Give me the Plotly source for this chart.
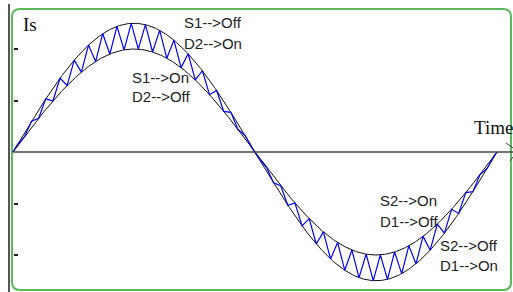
import numpy as np
import plotly.graph_objects as go

# ---- data ----
OUTER_AMP = 1.25          # outer hysteresis band amplitude
INNER_AMP = 1.0           # inner hysteresis band amplitude
TOOTH_PERIOD = 10.59      # degrees per switching period
FIRST_TOUCH = 3.2         # first contact with outer band (deg)
FALL_FRACTION = 0.5       # fraction of switching period spent falling
Y_TICKS = [-1.0, -0.5, 0.5, 1.0]
LABELS = ["S1-->Off", "D2-->On", "S1-->On", "D2-->Off",
          "S2-->On", "D1-->Off", "S2-->Off", "D1-->On"]
LABEL_POS = [(182, 23), (182, 43), (130, 77), (130, 96),
             (378, 200), (378, 221), (438, 245), (438, 265)]  # pixel positions
T_END = 360.0

W, H = 513, 292
def px(x):
    return x / W
def py(y):
    return 1 - y / H

t = np.linspace(0, T_END, 721)
outer = OUTER_AMP * np.sin(np.radians(t))
inner = INNER_AMP * np.sin(np.radians(t))

# zigzag between bands
zt = [0.0]
zi = [0.0]
k = 0
while True:
    to = FIRST_TOUCH + k * TOOTH_PERIOD
    ti = to + FALL_FRACTION * TOOTH_PERIOD
    if to > T_END:
        break
    zt.append(to); zi.append(OUTER_AMP * np.sin(np.radians(to)))
    if ti > T_END:
        break
    zt.append(ti); zi.append(INNER_AMP * np.sin(np.radians(ti)))
    k += 1
zt.append(T_END); zi.append(0.0)

fig = go.Figure()
fig.add_trace(go.Scatter(x=t, y=outer, mode="lines",
                         line=dict(color="#111111", width=1), hoverinfo="skip"))
fig.add_trace(go.Scatter(x=t, y=inner, mode="lines",
                         line=dict(color="#111111", width=1), hoverinfo="skip"))
fig.add_trace(go.Scatter(x=zt, y=zi, mode="lines",
                         line=dict(color="#0000ff", width=1.2), hoverinfo="skip"))

# pixel mapping: x_px = 13 + t*484/360 ; y_px = 152 - 103*I
sx = 484 / 360
xr = [(0 - 13) / sx, (W - 13) / sx]
yr = [(152 - H) / 103, 152 / 103]

fig.update_layout(
    width=W, height=H, margin=dict(l=0, r=0, t=0, b=0),
    paper_bgcolor="white", plot_bgcolor="white", showlegend=False,
    xaxis=dict(range=xr, visible=False),
    yaxis=dict(range=yr, showgrid=False, zeroline=False, showline=False,
               showticklabels=False, ticks="inside", ticklen=4, tickwidth=1.5,
               tickcolor="#222", tickvals=Y_TICKS, anchor="free", position=13 / W),
)

# rounded green frame
x0, x1, y0, y1, r = 12, 511, 9, 290, 8
path = (f"M {px(x0+r)} {py(y0)} L {px(x1-r)} {py(y0)} Q {px(x1)} {py(y0)} {px(x1)} {py(y0+r)} "
        f"L {px(x1)} {py(y1-r)} Q {px(x1)} {py(y1)} {px(x1-r)} {py(y1)} "
        f"L {px(x0+r)} {py(y1)} Q {px(x0)} {py(y1)} {px(x0)} {py(y1-r)} "
        f"L {px(x0)} {py(y0+r)} Q {px(x0)} {py(y0)} {px(x0+r)} {py(y0)} Z")
fig.add_shape(type="path", path=path, xref="paper", yref="paper",
              line=dict(color="#5cb85c", width=2), layer="below")

# vertical axis line (grey)
fig.add_shape(type="line", xref="paper", yref="paper", x0=px(9), x1=px(9),
              y0=py(4), y1=py(292), line=dict(color="#555555", width=2))
# horizontal time axis
fig.add_shape(type="line", xref="paper", yref="y", x0=px(13), x1=1, y0=0, y1=0,
              line=dict(color="#444444", width=1.6))
# arrow head
fig.add_shape(type="line", xref="paper", yref="paper", x0=px(506), y0=py(143),
              x1=px(513), y1=py(148), line=dict(color="#444444", width=1))
fig.add_shape(type="line", xref="paper", yref="paper", x0=px(510), y0=py(161),
              x1=px(513), y1=py(157), line=dict(color="#444444", width=1))

fig.add_annotation(x=px(21), y=py(24), xref="paper", yref="paper", text="Is",
                   showarrow=False, xanchor="left", yanchor="middle",
                   font=dict(family="Liberation Serif", size=19, color="#111"))
fig.add_annotation(x=px(472), y=py(127), xref="paper", yref="paper", text="Time",
                   showarrow=False, xanchor="left", yanchor="middle",
                   font=dict(family="Liberation Serif", size=19, color="#111"))

for txt, (lx, ly) in zip(LABELS, LABEL_POS):
    fig.add_annotation(x=px(lx), y=py(ly), xref="paper", yref="paper", text=txt,
                       showarrow=False, xanchor="left", yanchor="middle",
                       font=dict(family="Liberation Sans", size=15, color="#222"))

fig.write_html("out.html", config={"displayModeBar": False},
               post_script="document.body.style.margin='0';document.body.style.overflow='hidden';")
